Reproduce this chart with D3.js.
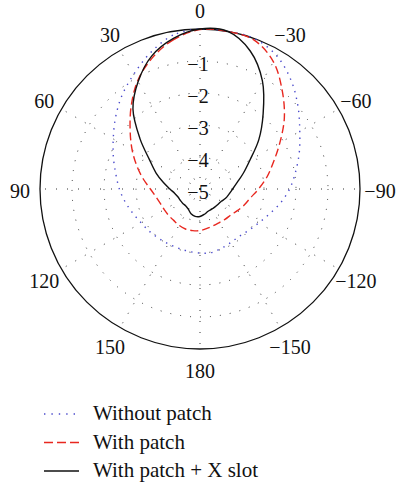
<!DOCTYPE html>
<html>
<head>
<meta charset="utf-8">
<script src="https://cdn.jsdelivr.net/npm/d3@7"></script>
<style>
  html, body { margin: 0; padding: 0; background: #fff; }
  svg { display: block; }
  text { font-family: "Liberation Serif", "DejaVu Serif", serif; fill: #111; }
</style>
</head>
<body>
<svg id="chart" width="397" height="485"></svg>
<script>
// Azimuth angles (degrees, counter-clockwise from 0 at the top)
const angles = [0, 10, 20, 30, 40, 50, 60, 70, 80, 90, 100, 110, 120, 130, 140, 150, 160, 170,
                180, 190, 200, 210, 220, 230, 240, 250, 260, 270, 280, 290, 300, 310, 320, 330, 340, 350];

// Normalised gain (dB) for each configuration
const withoutPatch = [0, -0.12, -0.47, -0.86, -1.2, -1.55, -1.87, -2.12, -2.33, -2.48, -2.63, -2.77,
                      -2.88, -2.94, -2.99, -3.02, -3.03, -3.02, -3.0, -2.98, -3.03, -3.07, -3.08, -3.0,
                      -2.88, -2.7, -2.45, -2.2, -1.97, -1.7, -1.4, -1.0, -0.57, -0.2, 0, 0];
const withPatch = [-0.02, -0.26, -0.64, -1.1, -1.65, -2.15, -2.55, -2.9, -3.2, -3.45, -3.6, -3.68,
                   -3.71, -3.72, -3.72, -3.69, -3.67, -3.68, -3.7, -3.75, -3.78, -3.79, -3.77, -3.74,
                   -3.65, -3.53, -3.4, -3.17, -2.88, -2.56, -2.12, -1.56, -1.0, -0.41, -0.05, 0];
const withPatchXSlot = [0, -0.22, -0.58, -1.13, -1.74, -2.55, -3.18, -3.54, -3.84, -4.06, -4.2, -4.27,
                        -4.29, -4.3, -4.31, -4.27, -4.18, -4.13, -4.14, -4.2, -4.26, -4.27, -4.27, -4.26,
                        -4.23, -4.15, -4.08, -3.98, -3.82, -3.56, -3.2, -2.6, -1.93, -1.1, -0.41, 0];

// Grid and tick labels
const radialTicks = [-1, -2, -3, -4, -5];
const gridRings = [-1, -2, -3, -4];
const angleTicks = [0, 30, 60, 90, 120, 150, 180, 210, 240, 270, 300, 330];
const angleLabels = ["0", "30", "60", "90", "120", "150", "180", "\u2212150", "\u2212120", "\u221290", "\u221260", "\u221230"];

const seriesNames = ["Without patch", "With patch", "With patch + X slot"];

const svg = d3.select("#chart");
const cx = 200, cy = 189, R = 160;

const r = d3.scaleLinear().domain([-5, 0]).range([0, R]);
const toRad = a => -a * Math.PI / 180; // counter-clockwise angles → d3 radial convention

const g = svg.append("g").attr("transform", `translate(${cx},${cy})`);

// dotted grid rings
g.selectAll("circle.ring").data(gridRings).join("circle")
  .attr("class", "ring")
  .attr("r", d => r(d))
  .attr("fill", "none")
  .attr("stroke", "#333")
  .attr("stroke-width", 1)
  .attr("stroke-dasharray", "1,9");

// dotted spokes
g.selectAll("line.spoke").data(angleTicks).join("line")
  .attr("class", "spoke")
  .attr("x1", 0).attr("y1", 0)
  .attr("x2", d => R * Math.sin(toRad(d)))
  .attr("y2", d => -R * Math.cos(toRad(d)))
  .attr("stroke", "#333")
  .attr("stroke-width", 1)
  .attr("stroke-dasharray", "1,10");

// outer boundary
g.append("circle").attr("r", r(0))
  .attr("fill", "none").attr("stroke", "#111").attr("stroke-width", 1.3);

// series
const styles = [
  { data: withoutPatch, color: "#4a4acc", width: 1.4, dash: "1.4,5.3" },
  { data: withPatch, color: "#e8271f", width: 1.4, dash: "8,4" },
  { data: withPatchXSlot, color: "#111", width: 1.4, dash: null }
];

const line = d3.lineRadial()
  .angle(d => toRad(d.a))
  .radius(d => r(d.v))
  .curve(d3.curveCatmullRomClosed.alpha(0.5));

styles.forEach(s => {
  const pts = angles.map((a, i) => ({ a, v: s.data[i] }));
  g.append("path")
    .attr("d", line(pts))
    .attr("fill", "none")
    .attr("stroke", s.color)
    .attr("stroke-width", s.width)
    .attr("stroke-dasharray", s.dash);
});

// radial tick labels
g.selectAll("text.rtick").data(radialTicks).join("text")
  .attr("class", "rtick")
  .attr("x", -2)
  .attr("y", d => -r(d) + 3)
  .attr("text-anchor", "middle")
  .attr("dominant-baseline", "central")
  .attr("font-size", 20)
  .text(d => "\u2212" + Math.abs(d));

// angular tick labels
const labelR = 180;
g.selectAll("text.atick").data(angleTicks).join("text")
  .attr("class", "atick")
  .attr("x", d => labelR * Math.sin(toRad(d)))
  .attr("y", d => -labelR * Math.cos(toRad(d)) + 2)
  .attr("text-anchor", "middle")
  .attr("dominant-baseline", "central")
  .attr("font-size", 20)
  .text((d, i) => angleLabels[i]);

// legend
const legend = svg.append("g").attr("transform", "translate(44,414)");
const rowH = 28.5;
seriesNames.forEach((name, i) => {
  const s = styles[i];
  const row = legend.append("g").attr("transform", `translate(0,${i * rowH})`);
  row.append("line")
    .attr("x1", 0).attr("x2", 35).attr("y1", 0).attr("y2", 0)
    .attr("stroke", s.color)
    .attr("stroke-width", s.width)
    .attr("stroke-dasharray", i === 0 ? "1.4,6" : (i === 1 ? "9,4" : null));
  row.append("text")
    .attr("x", 49)
    .attr("y", 6)
    .attr("font-size", 21)
    .text(name);
});
</script>
</body>
</html>
